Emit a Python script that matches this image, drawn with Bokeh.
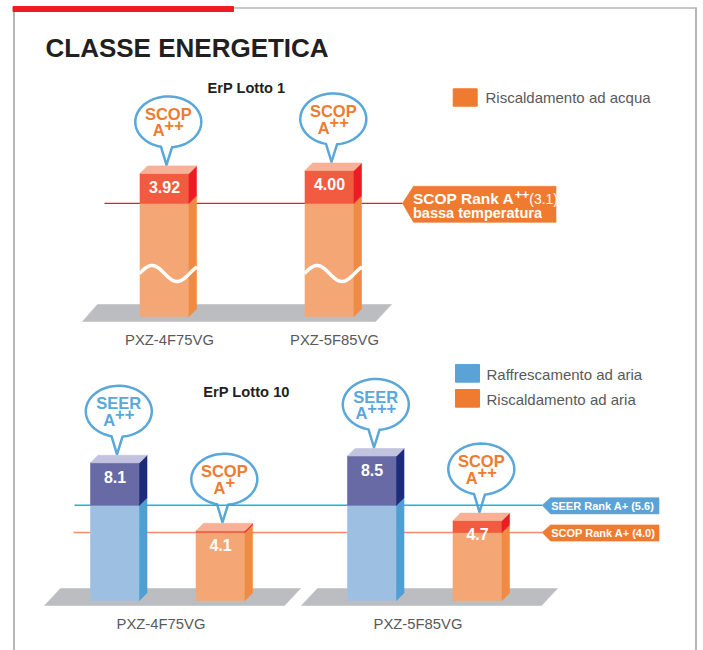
import math
from bokeh.plotting import figure
from bokeh.models import Range1d
from bokeh.core.properties import value
from bokeh.embed import file_html
from bokeh.resources import INLINE

# ---------------- data ----------------
title = "CLASSE ENERGETICA"
lot1_title = "ErP Lotto 1"
lot10_title = "ErP Lotto 10"
models = ["PXZ-4F75VG", "PXZ-5F85VG"]
lot1_scop = [3.92, 4.00]
lot1_class = ["A++", "A++"]
lot1_threshold = 3.1
lot10_seer = [8.1, 8.5]
lot10_seer_class = ["A++", "A+++"]
lot10_scop = [4.1, 4.7]
lot10_scop_class = ["A+", "A++"]
seer_threshold = 5.6
scop_threshold = 4.0
legend_lot1 = ["Riscaldamento ad acqua"]
legend_lot10 = ["Raffrescamento ad aria", "Riscaldamento ad aria"]

# ---------------- style ----------------
FONT = value("Liberation Sans")
ORANGE = "#ef7b30"
BLUE = "#5ba3d6"
OR_FRONT = "#f4a774"
OR_SIDE = "#ef8b45"
CAP_FRONT = "#f15b40"
CAP_SIDE = "#ed1c24"
OR_TOP = "#f8b196"
BL_FRONT = "#9dc0e2"
BL_SIDE = "#4f9fd3"
DK_FRONT = "#676aa4"
DK_SIDE = "#1d2c7a"
BL_TOP = "#c2c3de"
BUBBLE = "#5aa7da"
GROUND = "#bcbdc0"
GRAY_TXT = "#58595b"
DARK = "#231f20"
BORDER = "#b5b6b8"
BASE_FIX = 0.3   # baseline correction (fraction of font size)

W, H = 703, 650
X0, Y0 = 0, 0
# panel baseline (page px) and px per unit
PANEL = {"lot1": (316.0, 36.5), "lot10": (600.0, 17.0)}

p = figure(width=W, height=H, x_range=Range1d(X0, X0 + W), y_range=Range1d(Y0 + H, Y0),
           output_backend="svg", toolbar_location=None, x_axis_type=None, y_axis_type=None,
           min_border=0, outline_line_color=None)
p.grid.visible = False
for name, (base, k) in PANEL.items():
    p.extra_y_ranges[name] = Range1d(start=(base - (Y0 + H)) / k, end=(base - Y0) / k)


def u(panel, px):
    return px / PANEL[panel][1]


def txt(x, y, s, size, color, bold=False, align="left", rng=None):
    fix = BASE_FIX * size
    yy = y + u(rng, fix) if rng else y - fix
    kw = dict(x=[x], y=[yy], text=[s], text_font=FONT, text_font_size=value(f"{size}px"),
              text_color=color, text_align=align, text_baseline="alphabetic",
              text_font_style="bold" if bold else "normal")
    if rng:
        kw["y_range_name"] = rng
    p.text(**kw)


def poly(xs, ys, color, rng=None, line_color=None, lw=0.6):
    kw = dict(x=xs, y=ys, fill_color=color, line_color=line_color or color, line_width=lw)
    if rng:
        kw["y_range_name"] = rng
    p.patch(**kw)


# ---------------- frame ----------------
p.line(x=[13.5, 13.5], y=[8, 650], line_color=BORDER, line_width=2)
p.line(x=[695.5, 695.5], y=[7, 650], line_color=BORDER, line_width=2)
p.line(x=[233, 696], y=[7.5, 7.5], line_color=BORDER, line_width=1.5)
p.quad(left=[12.5], right=[233], top=[6], bottom=[11], color="#ed1c24")

txt(45, 55.7, title, 26, DARK, bold=True)
txt(246, 92, lot1_title, 14.6, DARK, bold=True, align="center")
txt(246, 396, lot10_title, 14.7, DARK, bold=True, align="center")

# legends
p.quad(left=[452.7], right=[476.7], top=[88.3], bottom=[105.7], color=ORANGE)
txt(485, 101.5, legend_lot1[0], 15, GRAY_TXT)
leg_cols = [BLUE, ORANGE]
for j, lab in enumerate(legend_lot10):
    top = 364 + j * 25
    p.quad(left=[455], right=[479], top=[top], bottom=[top + 17.7], color=leg_cols[j])
    txt(486, top + 14.3, lab, 15, GRAY_TXT)

# ---------------- helpers for 3D bars ----------------
D = 7.5


def bar3d(panel, x0, w, v, thr, cf_lo, cf_hi, cs_lo, cs_hi, ctop):
    dd = u(panel, D)
    x1 = x0 + w
    lo = min(v, thr)
    poly([x0, x1, x1, x0], [0, 0, lo, lo], cf_lo, panel)
    poly([x1, x1 + D, x1 + D, x1], [0, dd, lo + dd, lo], cs_lo, panel)
    if v > thr:
        poly([x0, x1, x1, x0], [thr, thr, v, v], cf_hi, panel)
        poly([x1, x1 + D, x1 + D, x1], [thr, thr + dd, v + dd, v], cs_hi, panel)
    poly([x0, x1, x1 + D, x0 + D], [v, v, v + dd, v + dd], ctop, panel)
    txt(x0 + w / 2, v - u(panel, 18.5), f"{v:.2f}" if panel == "lot1" else f"{v:.1f}",
        16, "white", bold=True, align="center", rng=panel)


def bubble(panel, cxf, v, word, cls, color):
    ex = cxf + 3.8
    ey = v + u(panel, 51.5)
    rx, ry = 33, u(panel, 25.5)
    tx = cxf + 2
    tip = v + u(panel, 8.5)
    xr, xl = tx + 5.5, tx - 5.5
    tr = -math.acos((xr - ex) / rx)
    tl = -math.acos((xl - ex) / rx) + 2 * math.pi
    n = 80
    xs, ys = [], []
    for i in range(n + 1):
        t = tr + (tl - tr) * i / n
        xs.append(ex + rx * math.cos(t))
        ys.append(ey + ry * math.sin(t))
    xs.append(tx)
    ys.append(tip)
    p.patch(x=xs, y=ys, fill_color="white", line_color=BUBBLE, line_width=2.5,
            line_join="round", y_range_name=panel)
    size = 16.5
    txt(ex, v + u(panel, 54.5), word, size, color, bold=True, align="center", rng=panel)
    letter, plus = cls[0], cls[1:]
    wa = 0.722 * size
    wp = 0.584 * size * len(plus)
    start = ex - (wa + wp) / 2
    txt(start, v + u(panel, 38.0), letter, size, color, bold=True, rng=panel)
    txt(start + wa, v + u(panel, 43.5), plus, size, color, bold=True, rng=panel)


def ground(panel, xb0, xb1, xt0, xt1):
    poly([xb0, xb1, xt1, xt0], [-u(panel, 5), -u(panel, 5), u(panel, 12), u(panel, 12)],
         GROUND, panel)


# ---------------- ErP Lotto 1 ----------------
BW = 49
lot1_x = [139.5 + i * 165 for i in range(len(models))]
ground("lot1", 82, 375, 97, 391)
for i, v in enumerate(lot1_scop):
    bubble("lot1", lot1_x[i] + BW / 2, v, "SCOP", lot1_class[i], ORANGE)
p.line(x=[104, 402], y=[lot1_threshold] * 2, line_color="#ed1c24", line_width=1.2,
       y_range_name="lot1")
for i, v in enumerate(lot1_scop):
    x0 = lot1_x[i]
    bar3d("lot1", x0, BW, v, lot1_threshold, OR_FRONT, CAP_FRONT, OR_SIDE, CAP_SIDE, OR_TOP)
    # break marker (wave)
    k = PANEL["lot1"][1]
    mid = (316 - 273) / k
    wx = [x0 - 0.5 + j * (BW + D + 1) / 40 for j in range(41)]
    wy = [mid + u("lot1", 8) * math.sin(2 * math.pi * (x - x0 + 0.5) / 50) for x in wx]
    p.line(x=wx, y=wy, line_color="white", line_width=3.5, y_range_name="lot1")
    txt(x0 + BW / 2 + 5, -u("lot1", 28), models[i], 14.8, GRAY_TXT, align="center", rng="lot1")

# tag lot1
t = lot1_threshold
poly([402, 413, 555.5, 555.5, 413],
     [t, t + u("lot1", 17), t + u("lot1", 17), t - u("lot1", 19), t - u("lot1", 19)],
     ORANGE, "lot1")
s1 = 15.5
txt(412.5, t, "SCOP Rank A", s1, "white", bold=True, rng="lot1")
xp = 412.5 + 6.557 * s1
txt(xp, t + u("lot1", 5), "++", 12.5, "white", bold=True, rng="lot1")
txt(xp + 2 * 0.584 * 12.5, t, f"({lot1_threshold})", 14, "white", rng="lot1")
txt(412.5, t - u("lot1", 13.5), "bassa temperatura", 14.5, "white", bold=True, rng="lot1")

# ---------------- ErP Lotto 10 ----------------
GROUP = 257
seer_x = [90 + i * GROUP for i in range(len(models))]
scop_x = [195.5 + i * GROUP for i in range(len(models))]
for i in range(len(models)):
    g = seer_x[i] - 46
    ground("lot10", g, g + 240, g + 16, g + 256)
for i in range(len(models)):
    bubble("lot10", seer_x[i] + BW / 2, lot10_seer[i], "SEER", lot10_seer_class[i], BUBBLE)
    bubble("lot10", scop_x[i] + BW / 2, lot10_scop[i], "SCOP", lot10_scop_class[i], ORANGE)
p.line(x=[74, 542], y=[seer_threshold] * 2, line_color="#1fb0e8", line_width=1.4,
       y_range_name="lot10")
p.line(x=[73, 542], y=[scop_threshold] * 2, line_color="#f48b72", line_width=1.4,
       y_range_name="lot10")
for i in range(len(models)):
    bar3d("lot10", seer_x[i], BW, lot10_seer[i], seer_threshold,
          BL_FRONT, DK_FRONT, BL_SIDE, DK_SIDE, BL_TOP)
    bar3d("lot10", scop_x[i], BW, lot10_scop[i], scop_threshold,
          OR_FRONT, CAP_FRONT, OR_SIDE, CAP_SIDE, OR_TOP)
    txt(seer_x[i] + 70.5, -u("lot10", 28), models[i], 14.8, GRAY_TXT, align="center",
        rng="lot10")

for thr, col, lab in [(seer_threshold, BLUE, f"SEER Rank A+ ({seer_threshold})"),
                      (scop_threshold, ORANGE, f"SCOP Rank A+ ({scop_threshold})")]:
    poly([541.7, 550, 658.5, 658.5, 550],
         [thr, thr + u("lot10", 7.6), thr + u("lot10", 7.6), thr - u("lot10", 8.6),
          thr - u("lot10", 8.6)], col, "lot10")
    txt(550.7, thr - u("lot10", 4), lab, 11, "white", bold=True, rng="lot10")

open("out.html", "w").write(file_html(p, INLINE))
